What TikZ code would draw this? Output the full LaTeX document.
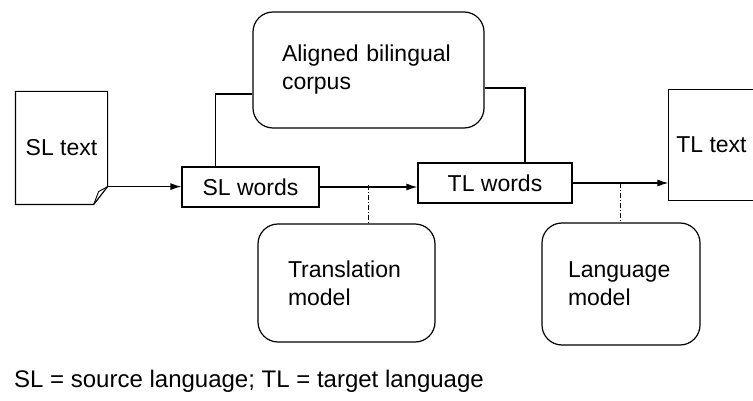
\documentclass[tikz,border=0pt]{standalone}
\usepackage{fontspec}
\setmainfont{Liberation Sans}
\usetikzlibrary{arrows.meta,calc}

\begin{document}
\begin{tikzpicture}[x=1pt,y=-1pt,
  box/.style={draw, line width=1.2pt, inner sep=0pt, font=\fontsize{23}{28}\selectfont},
  roundbox/.style={box, rounded corners=20pt, align=left},
  link/.style={line width=1.2pt},
  flow/.style={line width=1.2pt, -{Latex[length=11pt,width=7pt]}},
  probe/.style={line width=0.9pt, dash pattern=on 5pt off 2pt on 1pt off 2pt}]

\path [use as bounding box] (0,0) rectangle (753,401);

% DOCUMENTS
\node [box, draw=none, minimum width=91pt, minimum height=112pt] (sltext) at (61.5,148) {SL text};
\draw [link] (sltext.north west) -- (sltext.north east) -- ($(sltext.south east)+(0,-18)$)
  -- ($(sltext.south east)+(-14,0)$) -- (sltext.south west) -- cycle;
\draw [line width=0.9pt] ($(sltext.south east)+(0,-18)$) -- ($(sltext.south east)+(-9,-13)$)
  -- ($(sltext.south east)+(-14,0)$);
\node [box, draw=none, minimum width=85pt, minimum height=110pt] (tltext) at (711.5,145) {TL text};
\draw [link] (tltext.north east) -- (tltext.north west) -- (tltext.south west) -- (tltext.south east);

% BOXES
\node [box, minimum width=137pt, minimum height=40pt] (slwords) at (250.5,187) {SL words};
\node [box, minimum width=154pt, minimum height=40pt] (tlwords) at (495,183) {TL words};
\node [roundbox, minimum width=231pt, minimum height=116pt, text width=173pt] (corpus) at (368.5,70) {Aligned bilingual\\corpus};
\node [roundbox, minimum width=177pt, minimum height=118pt, text width=117pt] (transmodel) at (346.5,283) {Translation\\model};
\node [roundbox, minimum width=158pt, minimum height=122pt, text width=106pt] (langmodel) at (621,284) {Language\\model};

% FLOW
\coordinate (slcorner) at ($(sltext.south east)+(0,-18)$);
\draw [flow] (slcorner) -- (slcorner -| slwords.west);
\draw [flow] (slwords.east) -- (slwords.east -| tlwords.west);
\draw [flow] (tlwords.east) -- (tlwords.east -| tltext.west);

% CORPUS LINKS
\draw [link] ($(corpus.west)+(0,24)$) -| ($(slwords.north)+(-35,0)$);
\draw [link] ($(corpus.east)+(0,18)$) -| ($(tlwords.north)+(30,0)$);

% MODEL LINKS
\coordinate (tmjoin) at ($(slwords.east)!0.5!(tlwords.west)$);
\coordinate (lmjoin) at ($(tlwords.east)!0.5!(tltext.west |- tlwords.east)$);
\draw [probe] (tmjoin) -- (tmjoin |- transmodel.north);
\draw [probe] (lmjoin) -- (lmjoin |- langmodel.north);

% LEGEND
\node [anchor=base west, inner sep=0pt, font=\fontsize{24}{28}\selectfont] (legend) at (14,387)
  {SL = source language; TL = target language};

\end{tikzpicture}
\end{document}
